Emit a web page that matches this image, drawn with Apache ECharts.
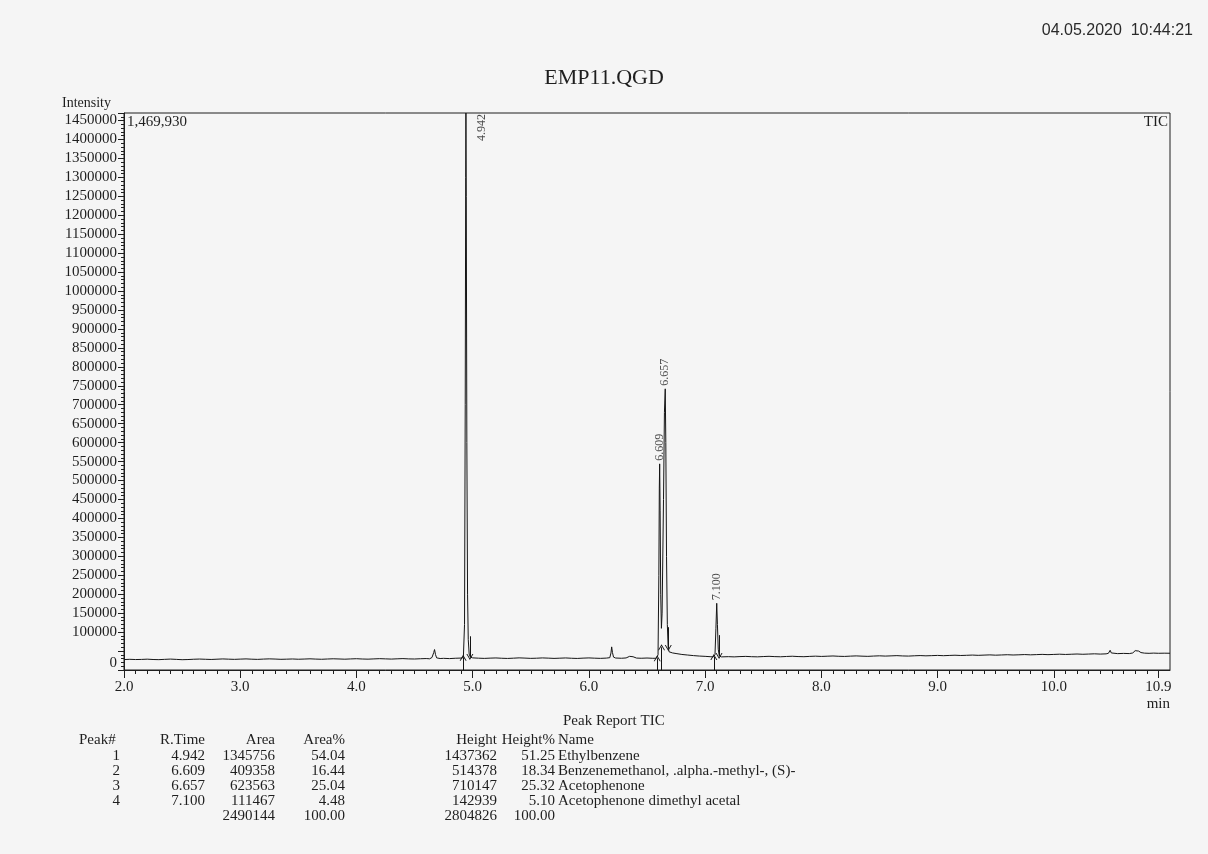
<!DOCTYPE html>
<html>
<head>
<meta charset="utf-8">
<style>
  html, body { margin: 0; padding: 0; background: #f5f5f5; }
  #chart { width: 1208px; height: 854px; }
</style>
<script src="https://cdn.jsdelivr.net/npm/echarts@6/dist/echarts.min.js"></script>
</head>
<body>
<div id="chart"></div>
<script>
// ---- Chromatogram trace (retention time in min, intensity) ----
const tic = [
  [2.00,27500],[2.05,28200],[2.10,27600],[2.15,27900],[2.20,28600],[2.25,27700],[2.30,27300],[2.35,28100],
  [2.40,28800],[2.45,28000],[2.50,27200],[2.55,27600],[2.60,28400],[2.65,28900],[2.70,28300],[2.75,27800],
  [2.80,28500],[2.85,29200],[2.90,28600],[2.95,28100],[3.00,28700],[3.05,29300],[3.10,28500],[3.15,28000],
  [3.20,28800],[3.25,29400],[3.30,28900],[3.35,28200],[3.40,28600],[3.45,29100],[3.50,28400],[3.55,28900],
  [3.60,29500],[3.65,28800],[3.70,28300],[3.75,29000],[3.80,29600],[3.85,29100],[3.90,28500],[3.95,29200],
  [4.00,29800],[4.05,29000],[4.10,28600],[4.15,29300],[4.20,29900],[4.25,29400],[4.30,28800],[4.35,29500],
  [4.40,30100],[4.45,29300],[4.50,29000],[4.55,29700],[4.60,30200],[4.63,29600],[4.65,33000],[4.665,46000],
  [4.672,54000],[4.68,41000],[4.69,32000],[4.72,30300],[4.75,30800],[4.80,30100],[4.85,31000],[4.90,31500],
  [4.920,33000],[4.930,120000],[4.936,700000],[4.940,1300000],[4.942,1469930],[4.945,1250000],[4.950,600000],
  [4.956,200000],[4.962,80000],[4.970,42000],[4.980,34000],
  [5.00,32000],[5.05,31200],[5.10,30600],[5.15,31300],[5.20,31800],[5.25,31000],[5.30,30500],[5.35,31200],
  [5.40,32000],[5.45,31400],[5.50,30700],[5.55,31100],[5.60,31900],[5.65,31300],[5.70,30600],[5.75,31200],
  [5.80,31800],[5.85,31000],[5.90,30500],[5.95,31300],[6.00,31900],[6.05,31200],[6.10,30700],[6.15,31400],
  [6.18,32500],[6.19,45000],[6.196,61000],[6.203,46000],[6.212,34000],[6.23,31600],[6.28,31000],[6.32,31800],
  [6.35,36000],[6.365,40000],[6.38,35000],[6.41,31500],[6.45,31000],[6.50,31600],[6.55,30900],[6.58,31000],
  [6.595,40000],[6.602,250000],[6.606,480000],[6.609,544000],[6.613,420000],[6.618,200000],[6.624,110000],
  [6.630,150000],[6.642,450000],[6.650,680000],[6.657,742000],[6.662,600000],[6.668,300000],[6.675,120000],
  [6.682,60000],[6.690,48000],
  [6.70,46000],[6.72,45000],[6.75,43500],[6.80,41000],[6.85,39500],[6.90,38000],[6.95,36800],[7.00,36000],
  [7.05,35000],[7.07,34500],[7.085,40000],[7.093,110000],[7.100,176000],[7.106,120000],[7.113,55000],
  [7.122,37000],[7.14,34600],
  [7.20,35200],[7.25,34600],[7.30,35400],[7.35,35900],[7.40,35100],[7.45,34700],[7.50,35500],[7.55,36100],
  [7.60,35300],[7.65,34900],[7.70,35700],[7.75,36300],[7.80,35500],[7.85,35100],[7.90,35900],[7.95,36500],
  [8.00,35800],[8.05,36400],[8.10,37000],[8.15,36200],[8.20,35800],[8.25,36600],[8.30,37200],[8.35,36500],
  [8.40,36000],[8.45,36800],[8.50,37400],[8.55,36700],[8.60,37300],[8.65,37900],[8.70,37100],[8.75,36700],
  [8.80,37500],[8.85,38100],[8.90,37400],[8.95,37900],[9.00,38500],[9.05,37800],[9.10,38400],[9.15,39000],
  [9.20,38300],[9.25,38800],[9.30,39400],[9.35,38700],[9.40,39300],[9.45,39900],[9.50,39100],[9.55,39700],
  [9.60,40300],[9.65,39600],[9.70,40100],[9.75,40700],[9.80,40000],[9.85,40600],[9.90,41200],[9.95,40500],
  [10.00,41100],[10.05,41700],[10.10,41000],[10.15,41600],[10.20,42200],[10.25,41500],[10.30,42100],
  [10.35,42700],[10.40,42000],[10.45,42600],[10.47,44000],[10.485,52000],[10.495,45000],[10.51,42800],
  [10.55,43200],[10.60,43800],[10.65,43300],[10.68,45000],[10.70,51000],[10.715,53500],[10.73,50000],
  [10.75,46000],[10.78,44500],[10.82,44000],[10.86,44600],[10.90,44100],[10.95,44400],[11.00,44200]
];

// ---- Peak annotations ----
const peakRT = [4.942, 6.609, 6.657, 7.100];
const peakApex = [1469930, 544000, 742000, 176000];
// integration markers: [time, baseline intensity]
const markStart = [[4.918, 32000], [6.588, 31000], [6.625, 60000], [7.075, 34500]];
const markEnd = [[4.976, 34000], [6.683, 58000], [7.120, 37000]];

// ---- Axis ticks ----
const xTickValues = [2, 3, 4, 5, 6, 7, 8, 9, 10, 10.9];
const yMax = 1469930;

// ---- Peak report table ----
const peakNo = ['1', '2', '3', '4'];
const peakRTText = ['4.942', '6.609', '6.657', '7.100'];
const peakArea = ['1345756', '409358', '623563', '111467'];
const peakAreaPct = ['54.04', '16.44', '25.04', '4.48'];
const peakHeight = ['1437362', '514378', '710147', '142939'];
const peakHeightPct = ['51.25', '18.34', '25.32', '5.10'];
const peakName = ['Ethylbenzene', 'Benzenemethanol, .alpha.-methyl-, (S)-', 'Acetophenone', 'Acetophenone dimethyl acetal'];
const totals = ['2490144', '100.00', '2804826', '100.00'];

const SERIF = '"Liberation Serif", "DejaVu Serif", serif';
const INK = '#1e1e1e';

function txt(text, x, y, align, size, family, color) {
  return {
    type: 'text', x: x, y: y, silent: true,
    style: {
      text: text, font: (size || 13) + 'px ' + (family || SERIF), fill: color || INK,
      align: align || 'left', verticalAlign: 'middle',
      textAlign: align || 'left', textVerticalAlign: 'middle'
    }
  };
}

const TS = 15;
const graphics = [
  txt('04.05.2020  10:44:21', 1193, 31, 'right', 16, '"Liberation Sans", Arial, sans-serif', '#2a2a2a'),
  txt('EMP11.QGD', 604, 78, 'center', 22),
  txt('Intensity', 62, 103, 'left', 14),
  txt('1,469,930', 127, 122, 'left', 15),
  txt('TIC', 1168, 122, 'right', 15),
  txt('min', 1170, 704, 'right', 15),
  txt('Peak Report TIC', 563, 721, 'left', TS),
  txt('Peak#', 79, 740, 'left', TS),
  txt('R.Time', 205, 740, 'right', TS),
  txt('Area', 275, 740, 'right', TS),
  txt('Area%', 345, 740, 'right', TS),
  txt('Height', 497, 740, 'right', TS),
  txt('Height%', 555, 740, 'right', TS),
  txt('Name', 558, 740, 'left', TS)
];
for (let i = 0; i < peakNo.length; i++) {
  const y = 756 + i * 15;
  graphics.push(txt(peakNo[i], 120, y, 'right', TS));
  graphics.push(txt(peakRTText[i], 205, y, 'right', TS));
  graphics.push(txt(peakArea[i], 275, y, 'right', TS));
  graphics.push(txt(peakAreaPct[i], 345, y, 'right', TS));
  graphics.push(txt(peakHeight[i], 497, y, 'right', TS));
  graphics.push(txt(peakHeightPct[i], 555, y, 'right', TS));
  graphics.push(txt(peakName[i], 558, y, 'left', TS));
}
graphics.push(txt(totals[0], 275, 816, 'right', TS));
graphics.push(txt(totals[1], 345, 816, 'right', TS));
graphics.push(txt(totals[2], 497, 816, 'right', TS));
graphics.push(txt(totals[3], 555, 816, 'right', TS));

const arrowSym = 'path://M0,10 L5,0 L10,10 L8.6,10 L5,3 L1.4,10 Z';
const markLines = [];
markStart.forEach(function (p) {
  markLines.push([{ coord: [p[0], 0], symbol: 'none' }, { coord: [p[0], p[1]], symbol: arrowSym, symbolSize: [7, 6] }]);
});
markEnd.forEach(function (p) {
  markLines.push([{ coord: [p[0], p[1] + 55000], symbol: 'none' }, { coord: [p[0], p[1]], symbol: arrowSym, symbolSize: [7, 6] }]);
});

const labelData = peakRT.map(function (t, i) {
  const item = { value: [t, peakApex[i]] };
  if (i === 0) {
    item.label = { position: [16, 1], align: 'right', verticalAlign: 'middle' };
  }
  return item;
});

const chart = echarts.init(document.getElementById('chart'), null, { renderer: 'canvas' });
chart.setOption({
  backgroundColor: '#f5f5f5',
  animation: false,
  textStyle: { fontFamily: SERIF },
  graphic: { elements: graphics },
  grid: { left: 124, right: 38, top: 113, bottom: 184, show: true, borderColor: INK, borderWidth: 1, backgroundColor: 'transparent' },
  xAxis: {
    type: 'value', min: 2, max: 11, interval: 1,
    axisLine: { show: true, lineStyle: { color: INK, width: 1 } },
    axisTick: { show: true, length: 8, lineStyle: { color: INK }, customValues: xTickValues },
    minorTick: { show: true, splitNumber: 10, length: 4, lineStyle: { color: INK } },
    splitLine: { show: false },
    axisLabel: {
      customValues: xTickValues, color: INK, fontSize: 15, fontFamily: SERIF, margin: 10,
      formatter: function (v) { return v.toFixed(1); }
    }
  },
  yAxis: {
    type: 'value', min: 0, max: yMax, interval: 50000,
    axisLine: { show: true, lineStyle: { color: INK, width: 1 } },
    axisTick: { show: true, length: 6, lineStyle: { color: INK } },
    minorTick: { show: true, splitNumber: 5, length: 3, lineStyle: { color: INK } },
    splitLine: { show: false },
    axisLabel: {
      color: INK, fontSize: 15, fontFamily: SERIF, margin: 7,
      showMaxLabel: false, showMinLabel: true, hideOverlap: false,
      formatter: function (v) { return v === 0 ? '{z|0}' : (v === 50000 ? '' : String(v)); },
      rich: { z: { fontSize: 15, fontFamily: SERIF, color: INK, padding: [0, 0, 14, 0] } }
    }
  },
  series: [
    {
      type: 'line', data: tic, showSymbol: false, symbol: 'none', silent: true,
      sampling: null, clip: true,
      lineStyle: { color: '#151515', width: 1 },
      markLine: {
        silent: true, animation: false,
        label: { show: false },
        lineStyle: { color: '#151515', width: 1, type: 'solid' },
        emphasis: { disabled: true },
        data: markLines
      }
    },
    {
      type: 'scatter', data: labelData, symbolSize: 0, silent: true,
      label: {
        show: true, position: 'top', distance: 3, rotate: 90,
        align: 'left', verticalAlign: 'middle',
        fontSize: 12, fontFamily: SERIF, color: INK,
        formatter: function (p) { return p.value[0].toFixed(3); }
      }
    }
  ]
});
</script>
</body>
</html>
